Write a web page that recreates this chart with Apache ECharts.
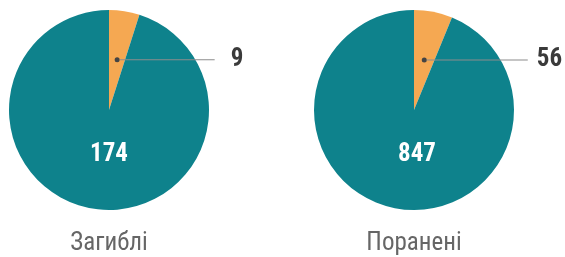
<!DOCTYPE html>
<html>
<head>
<meta charset="utf-8">
<script src="https://cdn.jsdelivr.net/npm/echarts@6/dist/echarts.min.js"></script>
<style>
  html, body { margin: 0; padding: 0; background: #fff; }
  #chart { width: 565px; height: 257px; }
</style>
</head>
<body>
<div id="chart"></div>
<script>
const categories = ["Загиблі", "Поранені"];
const smallValues = [9, 56];
const bigValues = [174, 847];

const smallColor = "#f5a852";
const bigColor = "#0e828c";
const font = '"Roboto Condensed", "Liberation Sans Narrow", "DejaVu Sans Condensed", Roboto, sans-serif';

// per pie layout (px)
const centers = [[109, 110], [414, 110]];
const lineLen = [95, 101];
const gapLen = [16, 9];
const bigShift = [[0, 45], [3, 45]];

const chart = echarts.init(document.getElementById("chart"));

const series = categories.map(function (name, i) {
  return {
    type: "pie",
    name: name,
    center: centers[i],
    radius: 100,
    startAngle: 90,
    clockwise: true,
    silent: true,
    labelLine: { show: false },
    data: [
      {
        name: "small",
        value: smallValues[i],
        itemStyle: { color: smallColor },
        label: {
          show: true,
          position: "inside",
          formatter: "{dot|}{line|}{gap|}{val|" + smallValues[i] + "}",
          rich: {
            dot: { width: 5, height: 5, borderRadius: 2.5, backgroundColor: "#444" },
            line: { width: lineLen[i], height: 1, backgroundColor: "#8c8c8c" },
            gap: { width: gapLen[i], height: 1 },
            val: { fontFamily: font, fontWeight: "bold", fontSize: 25, color: "#3a3a3a" },
          },
        },
      },
      {
        name: "big",
        value: bigValues[i],
        itemStyle: { color: bigColor },
        label: {
          show: true,
          position: "center",
          formatter: String(bigValues[i]),
          fontFamily: font,
          fontWeight: "bold",
          fontSize: 25,
          color: "#fff",
        },
      },
    ],
    labelLayout: function (params) {
      if (params.dataIndex === 0) {
        return { dx: params.labelRect.width / 2 - 2.5, dy: 2 };
      }
      return { dx: bigShift[i][0], dy: bigShift[i][1] };
    },
  };
});

const option = {
  animation: false,
  title: categories.map(function (name, i) {
    return {
      text: name,
      left: centers[i][0],
      top: 231,
      padding: 0,
      textAlign: "center",
      textStyle: {
        fontFamily: font,
        fontWeight: "normal",
        fontSize: 25,
        color: "#666",
      },
    };
  }),
  series: series,
};

chart.setOption(option);
</script>
</body>
</html>
